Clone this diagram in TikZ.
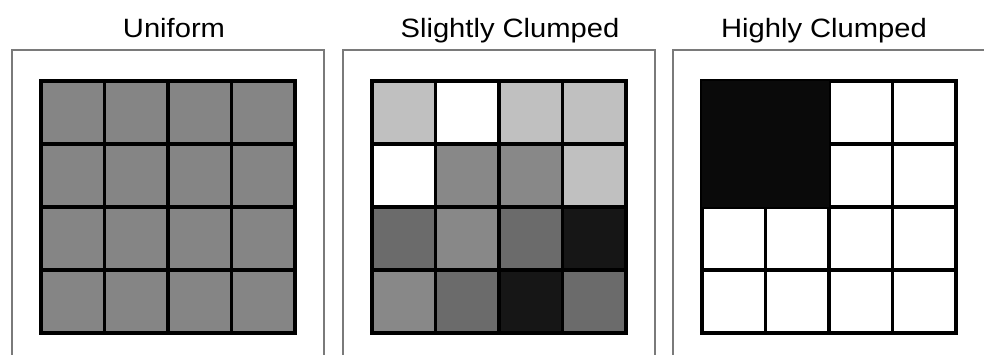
\documentclass[tikz,border=0pt]{standalone}
\usepackage{fontspec}
\setmainfont{Liberation Sans}
\definecolor{uni}{HTML}{858585}
\definecolor{lt}{HTML}{C0C0C0}
\definecolor{wh}{HTML}{FFFFFF}
\definecolor{md}{HTML}{888888}
\definecolor{dk}{HTML}{6B6B6B}
\definecolor{vd}{HTML}{161616}
\definecolor{bk}{HTML}{0A0A0A}
\definecolor{frame}{HTML}{7A7A7A}
\tikzset{
  panelframe/.style={draw=frame, line width=1.4pt},
  gridline/.style={draw=black, line width=3.2pt, line cap=rect},
  title/.style={anchor=base, inner sep=0pt, font=\fontsize{26.5}{30}\selectfont},
}
\begin{document}
\begin{tikzpicture}[x=1pt,y=-1pt]
\useasboundingbox (0,0) rectangle (984,355);
\fill[white] (0,0) rectangle (984,355);
% frames
\draw[panelframe] (12,356) -- (12,50) -- (324,50) -- (324,356);
\draw[panelframe] (343,356) -- (343,50) -- (655,50) -- (655,356);
\draw[panelframe] (673,356) -- (673,50) -- (985,50);
% titles
\node[title] (t1) at (174,38) {\scalebox{1.1}[1]{Uniform}};
\node[title] (t2) at (510,38) {\scalebox{1.1}[1]{Slightly Clumped}};
\node[title] (t3) at (824,38) {\scalebox{1.1}[1]{Highly Clumped}};
% grid 1: uniform
\fill[uni] (41,81) rectangle (295,333);
% grid 2: slightly clumped
\foreach \c [count=\i from 0] in {lt,wh,lt,lt,wh,md,md,lt,dk,md,dk,vd,md,dk,vd,dk} {
  \pgfmathsetmacro\cc{mod(\i,4)}
  \pgfmathsetmacro\rr{int(\i/4)}
  \fill[\c] ({372+63.5*\cc},{81+63*\rr}) rectangle ++(63.5,63);
}
% grid lines
\foreach \xo in {41,372,702} {
  \foreach \k in {0,1,2,3,4} {
    \draw[gridline] ({\xo+63.5*\k},81) -- ({\xo+63.5*\k},333);
    \draw[gridline] (\xo,{81+63*\k}) -- ({\xo+254},{81+63*\k});
  }
}
% grid 3: highly clumped block (covers internal lines)
\fill[bk] (702,81) rectangle (829,207);
\end{tikzpicture}
\end{document}
